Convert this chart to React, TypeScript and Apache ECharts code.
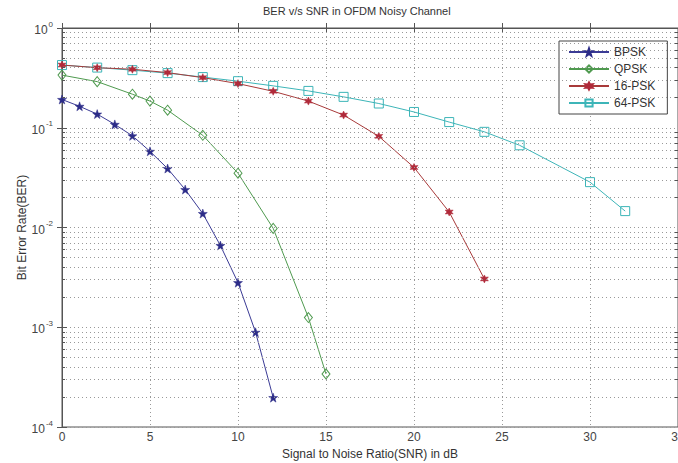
import React, { useEffect, useRef } from "react";
import * as echarts from "echarts";

const bpskX = [0, 1, 2, 3, 4, 5, 6, 7, 8, 9, 10, 11, 12];
const bpskY = [0.192, 0.164, 0.137, 0.108, 0.083, 0.058, 0.039, 0.024, 0.0138, 0.0066, 0.0028, 0.00089, 0.000197];
const qpskX = [0, 2, 4, 5, 6, 8, 10, 12, 14, 15];
const qpskY = [0.337, 0.29, 0.217, 0.185, 0.15, 0.084, 0.035, 0.0098, 0.00125, 0.00034];
const psk16X = [0, 2, 4, 6, 8, 10, 12, 14, 16, 18, 20, 22, 24];
const psk16Y = [0.425, 0.4, 0.386, 0.357, 0.318, 0.277, 0.232, 0.185, 0.134, 0.082, 0.04, 0.0143, 0.00305];
const psk64X = [0, 2, 4, 6, 8, 10, 12, 14, 16, 18, 20, 22, 24, 26, 30, 32];
const psk64Y = [0.425, 0.401, 0.378, 0.353, 0.322, 0.293, 0.263, 0.234, 0.204, 0.175, 0.144, 0.114, 0.091, 0.0667, 0.0285, 0.0146];
const seriesNames = ["BPSK", "QPSK", "16-PSK", "64-PSK"];
const decades = [1e-4, 1e-3, 1e-2, 1e-1];
const minorMult = [2, 3, 4, 5, 6, 7, 8, 9];

const STAR5 = "path://M0,-10 L2.35,-3.24 L9.51,-3.09 L3.8,1.24 L5.88,8.09 L0,4 L-5.88,8.09 L-3.8,1.24 L-9.51,-3.09 L-2.35,-3.24 Z";
const STAR6 = "path://M0,-10 L2.5,-4.3 L8.7,-5 L5,0 L8.7,5 L2.5,4.3 L0,10 L-2.5,4.3 L-8.7,5 L-5,0 L-8.7,-5 L-2.5,-4.3 Z";

export default function App() {
  const ref = useRef<HTMLDivElement>(null);
  useEffect(() => {
    document.body.style.margin = "0";
    const chart = echarts.init(ref.current!, null, { renderer: "svg" });
    // minor log positions expressed as exponents for a hidden linear helper axis
    const minorExp: number[] = [];
    decades.forEach((d) => minorMult.forEach((m) => minorExp.push(Math.log10(d * m))));
    const gridLines = minorExp.map((e) => [{ coord: [0, e] }, { coord: [35, e] }]);
    const tickSegs: any[] = [];
    minorExp.forEach((e) => {
      tickSegs.push([{ coord: [0, e] }, { coord: [0.17, e] }]);
      tickSegs.push([{ coord: [34.83, e] }, { coord: [35, e] }]);
    });
    const zip = (xs: number[], ys: number[]) => xs.map((x, i) => [x, ys[i]]);
    const font = "Liberation Sans, Arial, sans-serif";
    const axisCol = "#555";
    const logLabel = (v: number) => `{b|10}{s|${Math.round(Math.log10(v))}}`;
    chart.setOption({
      animation: false,
      backgroundColor: "#fff",
      textStyle: { fontFamily: font },
      title: {
        text: "BER v/s SNR in OFDM Noisy Channel",
        left: 258,
        top: 2,
        padding: [3, 5],
        textStyle: { fontSize: 11, fontWeight: "normal", color: "#333", fontFamily: font },
      },
      legend: {
        orient: "vertical",
        left: 559,
        top: 41,
        padding: [5, 12, 5, 9],
        itemWidth: 40,
        itemHeight: 9,
        itemGap: 5,
        borderColor: "#444",
        borderWidth: 1,
        backgroundColor: "#fff",
        textStyle: { fontSize: 12, color: "#333", fontFamily: font },
        data: seriesNames,
      },
      grid: {
        left: 62,
        top: 28,
        right: 0,
        bottom: 36,
        show: true,
        borderColor: axisCol,
        borderWidth: 1,
        containLabel: false,
        outerBoundsMode: "none",
      },
      xAxis: [
        {
          type: "value",
          min: 0,
          max: 35,
          interval: 5,
          name: "Signal to Noise Ratio(SNR) in dB",
          nameLocation: "middle",
          nameGap: 20,
          nameTextStyle: { fontSize: 12, color: "#333", fontFamily: font },
          axisLine: { lineStyle: { color: axisCol } },
          axisTick: { inside: true, length: 5, lineStyle: { color: axisCol } },
          axisLabel: { fontSize: 12, color: "#444", margin: 4, fontFamily: font },
          splitLine: { show: true, lineStyle: { color: "#999", type: [1, 3], width: 1 } },
        },
        {
          type: "value",
          position: "top",
          min: 0,
          max: 35,
          interval: 5,
          axisLine: { lineStyle: { color: axisCol } },
          axisTick: { inside: true, length: 5, lineStyle: { color: axisCol } },
          axisLabel: { show: false },
          splitLine: { show: false },
        },
      ],
      yAxis: [
        {
          type: "log",
          logBase: 10,
          min: 1e-4,
          max: 1,
          splitNumber: 4,
          name: "Bit Error Rate(BER)",
          nameLocation: "middle",
          nameGap: 34,
          nameMoveOverlap: false,
          nameTextStyle: { fontSize: 12, color: "#333", fontFamily: font },
          axisLine: { lineStyle: { color: axisCol } },
          axisTick: { inside: true, length: 5, lineStyle: { color: axisCol } },
          axisLabel: {
            margin: 9,
            formatter: logLabel,
            rich: {
              b: { fontSize: 12, color: "#444", fontFamily: font, lineHeight: 16, verticalAlign: "bottom" },
              s: { fontSize: 8, color: "#444", fontFamily: font, lineHeight: 16, verticalAlign: "top", padding: [0, 0, 6, 1] },
            },
          },
          splitLine: { show: true, lineStyle: { color: "#999", type: [1, 3], width: 1 } },
        },
        {
          type: "log",
          logBase: 10,
          min: 1e-4,
          max: 1,
          splitNumber: 4,
          position: "right",
          axisLine: { lineStyle: { color: axisCol } },
          axisTick: { inside: true, length: 5, lineStyle: { color: axisCol } },
          axisLabel: { show: false },
          splitLine: { show: false },
        },
        {
          type: "value",
          min: -4,
          max: 0,
          show: false,
        },
      ],
      series: [
        {
          name: "grid-minor",
          type: "line",
          yAxisIndex: 2,
          data: [],
          silent: true,
          markLine: {
            silent: true,
            symbol: "none",
            label: { show: false },
            lineStyle: { color: "#999", type: [1, 3], width: 1 },
            data: gridLines,
          },
          z: 1,
        },
        {
          name: "tick-minor",
          type: "line",
          yAxisIndex: 2,
          data: [],
          silent: true,
          markLine: {
            silent: true,
            symbol: "none",
            label: { show: false },
            lineStyle: { color: axisCol, type: "solid", width: 1 },
            data: tickSegs,
          },
          z: 1,
        },
        {
          name: "BPSK",
          type: "line",
          data: zip(bpskX, bpskY),
          symbol: STAR5,
          symbolSize: 9,
          lineStyle: { color: "#3b3b95", width: 1 },
          itemStyle: { color: "#2c2c88", borderColor: "#2c2c88", borderWidth: 0.5 },
          z: 4,
        },
        {
          name: "QPSK",
          type: "line",
          data: zip(qpskX, qpskY),
          symbol: "diamond",
          symbolSize: [8, 10],
          lineStyle: { color: "#4f9a4f", width: 1 },
          itemStyle: { color: "rgba(255,255,255,0)", borderColor: "#4f9a4f", borderWidth: 1 },
          z: 4,
        },
        {
          name: "16-PSK",
          type: "line",
          data: zip(psk16X, psk16Y),
          symbol: STAR6,
          symbolSize: 8,
          lineStyle: { color: "#a83a3a", width: 1 },
          itemStyle: { color: "#b02a3a", borderColor: "#b02a3a", borderWidth: 0.5 },
          z: 4,
        },
        {
          name: "64-PSK",
          type: "line",
          data: zip(psk64X, psk64Y),
          symbol: "rect",
          symbolSize: 9,
          lineStyle: { color: "#3db5b8", width: 1 },
          itemStyle: { color: "rgba(255,255,255,0)", borderColor: "#3db5b8", borderWidth: 1 },
          z: 3,
        },
      ],
    });
    return () => chart.dispose();
  }, []);
  return <div ref={ref} style={{ width: 678, height: 463 }} />;
}
